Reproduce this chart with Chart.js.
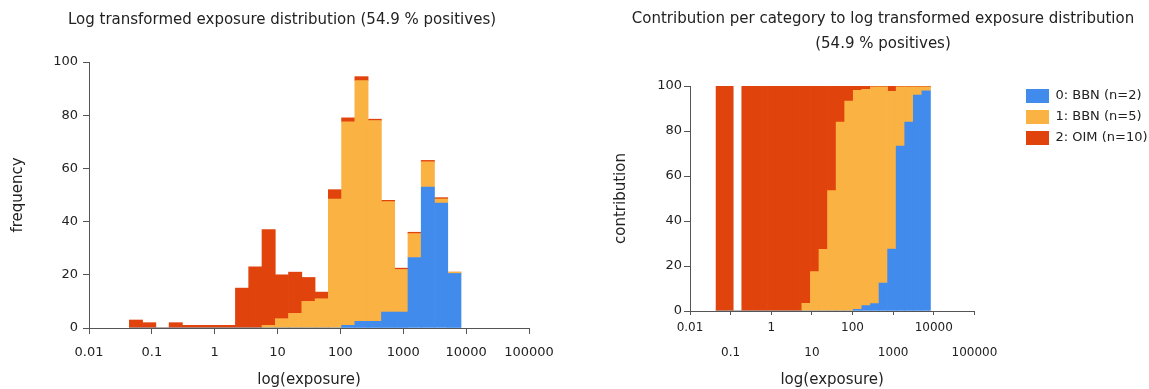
<!DOCTYPE html>
<html><head><meta charset="utf-8">
<script src="https://cdn.jsdelivr.net/npm/chart.js@4"></script>
<style>
html,body{margin:0;padding:0;background:#fff;overflow:hidden;width:1149px;height:389px;position:relative;}
#c1{position:absolute;left:0;top:0;}
#c2{position:absolute;left:608px;top:0;}
</style></head><body>
<canvas id="c1" width="579" height="389"></canvas>
<canvas id="c2" width="550" height="389"></canvas>
<script>
// bin centres in log10(exposure)
const binCenters = [-1.253,-1.042,-0.831,-0.620,-0.409,-0.198,0.013,0.224,0.435,0.646,0.858,1.069,1.280,1.491,1.702,1.913,2.124,2.335,2.546,2.758,2.969,3.180,3.391,3.602,3.813];
const tickValues = [-2,-1,0,1,2,3,4,5];
const tickLabels = ['0.01','0.1','1','10','100','1000','10000','100000'];
const categoryNames = ['0: BBN (n=2)','1: BBN (n=5)','2: OIM (n=10)'];
const colors = ['#418bed','#fab243','#e0430c'];

// frequency per bin (left chart)
const freqBBN0 = [0,0,0,0,0,0,0,0,0,0,0,0,0,0,0,0,1,2.5,2.5,6,6,26.5,53,47,20.5];
const freqBBN5 = [0,0,0,0,0,0,0,0,0,0,1,3.5,5.5,10,11,48.5,76.5,90.5,75.5,41.5,16,9,9.5,1.5,0.5];
const freqOIM10 = [3,2,0,2,1,1,1,1,15,23,36,16.5,15.5,9,2.5,3.5,1.5,1.5,0.5,0.5,0.5,0.5,0.5,0.5,0];

// contribution (%) per bin (right chart)
const pctBBN0 = [0,0,0,0,0,0,0,0,0,0,0,0,0,0,0,0,0.7,2.4,3.3,12.4,27.5,73.3,84,96,97.8];
const pctBBN5 = [0,0,0,0,0,0,0,0,0,0,3.4,17.5,27.4,53.5,84,93.3,97.4,96.1,96.3,87.2,70.1,26.3,15.6,3.6,1.8];
const pctOIM10 = [100,100,0,100,100,100,100,100,100,100,96.6,82.5,72.6,46.5,16,6.7,1.9,1.5,0.4,0.4,2.4,0.4,0.4,0.4,0.4];

const FONT = "'DejaVu Sans', sans-serif";
const TXT = '#222';
const AX = '#555';

function pts(arr){ return binCenters.map((x,i)=>({x:x, y:arr[i]})); }
function ds(label, arr, color){
  return {label:label, data:pts(arr), backgroundColor:color, borderWidth:0,
          barPercentage:1, categoryPercentage:1};
}
function tickLabel(v){ const i = tickValues.indexOf(v); return i>=0 ? tickLabels[i] : ''; }

function xScale(opts){
  return Object.assign({
    type:'linear', min:-2, max:5, stacked:true, offset:false,
    afterBuildTicks(s){ s.ticks = tickValues.map(v=>({value:v})); },
    grid:{display:true, drawOnChartArea:false, drawTicks:true, tickLength:6, color:AX, offset:false},
    border:{display:true, color:AX, width:1},
    title:{display:true, text:'log(exposure)', color:TXT, font:{family:FONT, size:15}, padding:{top:0,bottom:0}}
  }, opts);
}
function yScale(opts){
  return Object.assign({
    min:0, max:100, stacked:true,
    ticks:{stepSize:20, color:TXT, font:{family:FONT,size:13}, padding:5},
    grid:{display:true, drawOnChartArea:false, drawTicks:true, tickLength:6, color:AX},
    border:{display:true, color:AX, width:1}
  }, opts);
}

Chart.defaults.font.family = FONT;

new Chart(document.getElementById('c1'), {
  type:'bar',
  data:{datasets:[ds(categoryNames[0],freqBBN0,colors[0]), ds(categoryNames[1],freqBBN5,colors[1]), ds(categoryNames[2],freqOIM10,colors[2])]},
  options:{
    responsive:false, animation:false, devicePixelRatio:1,
    layout:{padding:{left:35,right:50,top:0,bottom:0}},
    plugins:{
      legend:{display:false}, tooltip:{enabled:false},
      title:{display:true, text:'Log transformed exposure distribution (54.9 % positives)', color:TXT,
             font:{family:FONT,size:15,weight:'normal',lineHeight:'25px'}, padding:{top:8,bottom:29}}
    },
    scales:{
      x: xScale({ticks:{autoSkip:false, maxRotation:0, color:TXT, font:{family:FONT,size:13}, padding:11, callback:(v)=>tickLabel(v)},
                 afterFit(s){ s.height = 61; }}),
      y: yScale({afterFit(s){ s.width = 54; },
                 title:{display:true, text:'frequency', color:TXT, font:{family:FONT,size:15}, padding:{top:-26,bottom:0}}})
    }
  }
});

const legendPlacer = {
  id:'legendPlacer',
  beforeLayout(chart){
    const lg = chart.legend;
    if (lg && !lg._patched){
      const f = lg.fit.bind(lg);
      lg.fit = function(){ f(); this.width = 550 - 366.4; };
      lg._patched = true;
    }
  },
  afterLayout(chart){
    const lg = chart.legend;
    if (lg){ const w = lg.width; lg.left = 1026 - 608 - 7; lg.right = lg.left + w; lg.top = 82; }
  }
};

new Chart(document.getElementById('c2'), {
  type:'bar',
  data:{datasets:[ds(categoryNames[0],pctBBN0,colors[0]), ds(categoryNames[1],pctBBN5,colors[1]), ds(categoryNames[2],pctOIM10,colors[2])]},
  plugins:[legendPlacer],
  options:{
    responsive:false, animation:false, devicePixelRatio:1,
    layout:{padding:{left:0,right:0,top:0,bottom:0}},
    plugins:{
      tooltip:{enabled:false},
      legend:{display:true, position:'right', align:'start',
        labels:{boxWidth:23, boxHeight:14, padding:7, color:TXT, font:{family:FONT,size:13}}},
      title:{display:true, text:['Contribution per category to log transformed exposure distribution','(54.9 % positives)'], color:TXT,
             font:{family:FONT,size:15,weight:'normal',lineHeight:'25px'}, padding:{top:7,bottom:29}}
    },
    scales:{
      x: xScale({ticks:{autoSkip:false, maxRotation:0, color:TXT, font:{family:FONT,size:12,lineHeight:'25px'}, padding:0,
                 callback:(v)=>{ const i = tickValues.indexOf(v); const t = tickLabel(v); return (i % 2 === 0) ? [t] : ['', t]; }},
                 grid:{display:true, drawOnChartArea:false, drawTicks:true, tickLength:4, color:AX, offset:false},
                 afterFit(s){ s.height = 78; }}),
      y: yScale({afterFit(s){ s.width = 82; }, ticks:{stepSize:20, color:TXT, font:{family:FONT,size:13}, padding:2},
                 title:{display:true, text:'contribution', color:TXT, font:{family:FONT,size:15}, padding:{top:4,bottom:0}}})
    }
  }
});
</script>
</body></html>
